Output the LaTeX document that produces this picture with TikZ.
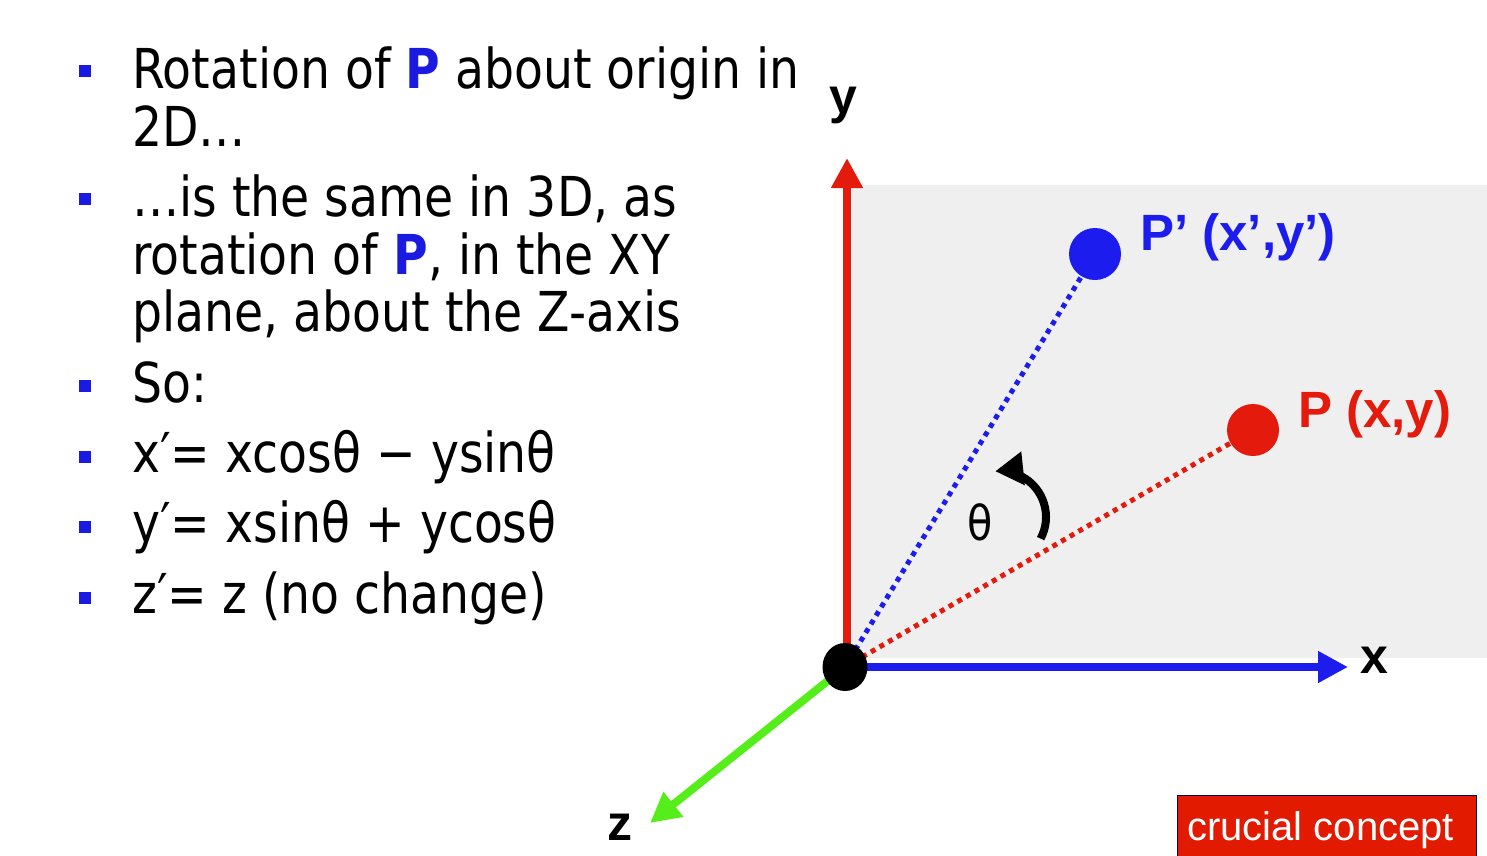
\documentclass[tikz,border=0pt]{standalone}
\usepackage{fontspec}
\usetikzlibrary{arrows.meta,shapes.geometric}
\newfontfamily\tah[FakeStretch=0.86]{DejaVu Sans}
\newfontfamily\arl{Liberation Sans}
\definecolor{axred}{HTML}{E31A0C}
\definecolor{axblue}{HTML}{1C1CEE}
\definecolor{axgreen}{HTML}{55EE1A}
\definecolor{planegray}{HTML}{EFEFEF}
\definecolor{bulblue}{HTML}{1A1AE0}
\definecolor{boxred}{HTML}{E21A00}
\tikzset{
  bullet/.style={fill=bulblue,minimum size=12pt,inner sep=0pt},
  bodytext/.style={anchor=base west,inner sep=0pt,font=\tah\fontsize{55}{58}\selectfont},
  axis/.style={line width=8pt},
  dots/.style={line width=5pt,dash pattern=on 5pt off 5pt},
  axlabel/.style={inner sep=0pt,font=\arl\bfseries\fontsize{50}{50}\selectfont},
  ptlabel/.style={anchor=west,inner sep=0pt,font=\arl\bfseries\fontsize{51}{51}\selectfont},
}
\begin{document}
\begin{tikzpicture}[x=1pt,y=-1pt]
\useasboundingbox (0,0) rectangle (1487,855);
% plane
\fill[planegray] (852,185) rectangle (1487,658);
% text
\node[bullet] (b1) at (85,71) {};
\node[bodytext] (t1) at (132,88) {Rotation of {\bfseries\color{bulblue}P} about origin in};
\node[bodytext] (t2) at (132,146) {2D\dots};
\node[bullet] (b2) at (85,199) {};
\node[bodytext] (t3) at (132,216) {\dots is the same in 3D, as};
\node[bodytext] (t4) at (132,274) {rotation of {\bfseries\color{bulblue}P}, in the XY};
\node[bodytext] (t5) at (132,331) {plane, about the Z-axis};
\node[bullet] (b3) at (85,386) {};
\node[bodytext] (t6) at (132,402) {So:};
\node[bullet] (b4) at (85,457) {};
\node[bodytext] (t7) at (132,472) {x′= xcosθ − ysinθ};
\node[bullet] (b5) at (85,527) {};
\node[bodytext] (t8) at (132,542) {y′= xsinθ + ycosθ};
\node[bullet] (b6) at (85,598) {};
\node[bodytext] (t9) at (132,613) {z′= z (no change)};
% coordinates
\coordinate (o) at (845,667);
\coordinate (ybase) at (847,660);
\coordinate (ytip) at (847,158);
\coordinate (xtip) at (1348,667);
\coordinate (ztip) at (650,823);
\coordinate (pp) at (1095,254);
\coordinate (p) at (1253,430);
\coordinate (thc) at (1000,517);
% axes
\draw[axis,axred,-{Triangle[length=30pt,width=30pt]}] (ybase) -- (ytip);
\draw[axis,axblue,-{Triangle[length=30pt,width=30pt]}] (o) -- (xtip);
\draw[axis,axgreen,-{Triangle[length=30pt,width=30pt]}] (o) -- (ztip);
% dotted lines
\draw[dots,axblue] (o) -- (pp);
\draw[dots,axred] (o) -- (p);
% points
\node[circle,fill=axblue,minimum size=52pt,inner sep=0pt] (Pp) at (pp) {};
\node[circle,fill=axred,minimum size=52pt,inner sep=0pt] (P) at (p) {};
\node[ellipse,fill=black,minimum width=45pt,minimum height=48pt,inner sep=0pt] (O) at (o) {};
% labels
\node[ptlabel,text=axblue] (lPp) at (1140,237) {P’ (x’,y’)};
\node[ptlabel,text=axred] (lP) at (1298,414) {P (x,y)};
\node[axlabel] (ly) at (843,105) {y};
\node[axlabel] (lx) at (1374,660) {x};
\node[axlabel] (lz) at (620,827) {z};
% theta
\draw[line width=8pt,-{Triangle[length=28pt,width=32pt]}] ([shift={(28:46)}]thc) arc[start angle=28,end angle=-96,radius=46];
\node[inner sep=0pt,font=\tah\fontsize{48}{48}\selectfont] (th) at (980,522) {θ};
% box
\node[draw=black!60!blue,line width=1pt,fill=boxred,anchor=north west,minimum width=299pt,minimum height=65pt,inner sep=0pt] (box) at (1177,795) {};
\node[anchor=base west,inner sep=0pt,text=white,font=\arl\fontsize{40}{40}\selectfont] (boxt) at (1187,840) {crucial concept};
\end{tikzpicture}
\end{document}
